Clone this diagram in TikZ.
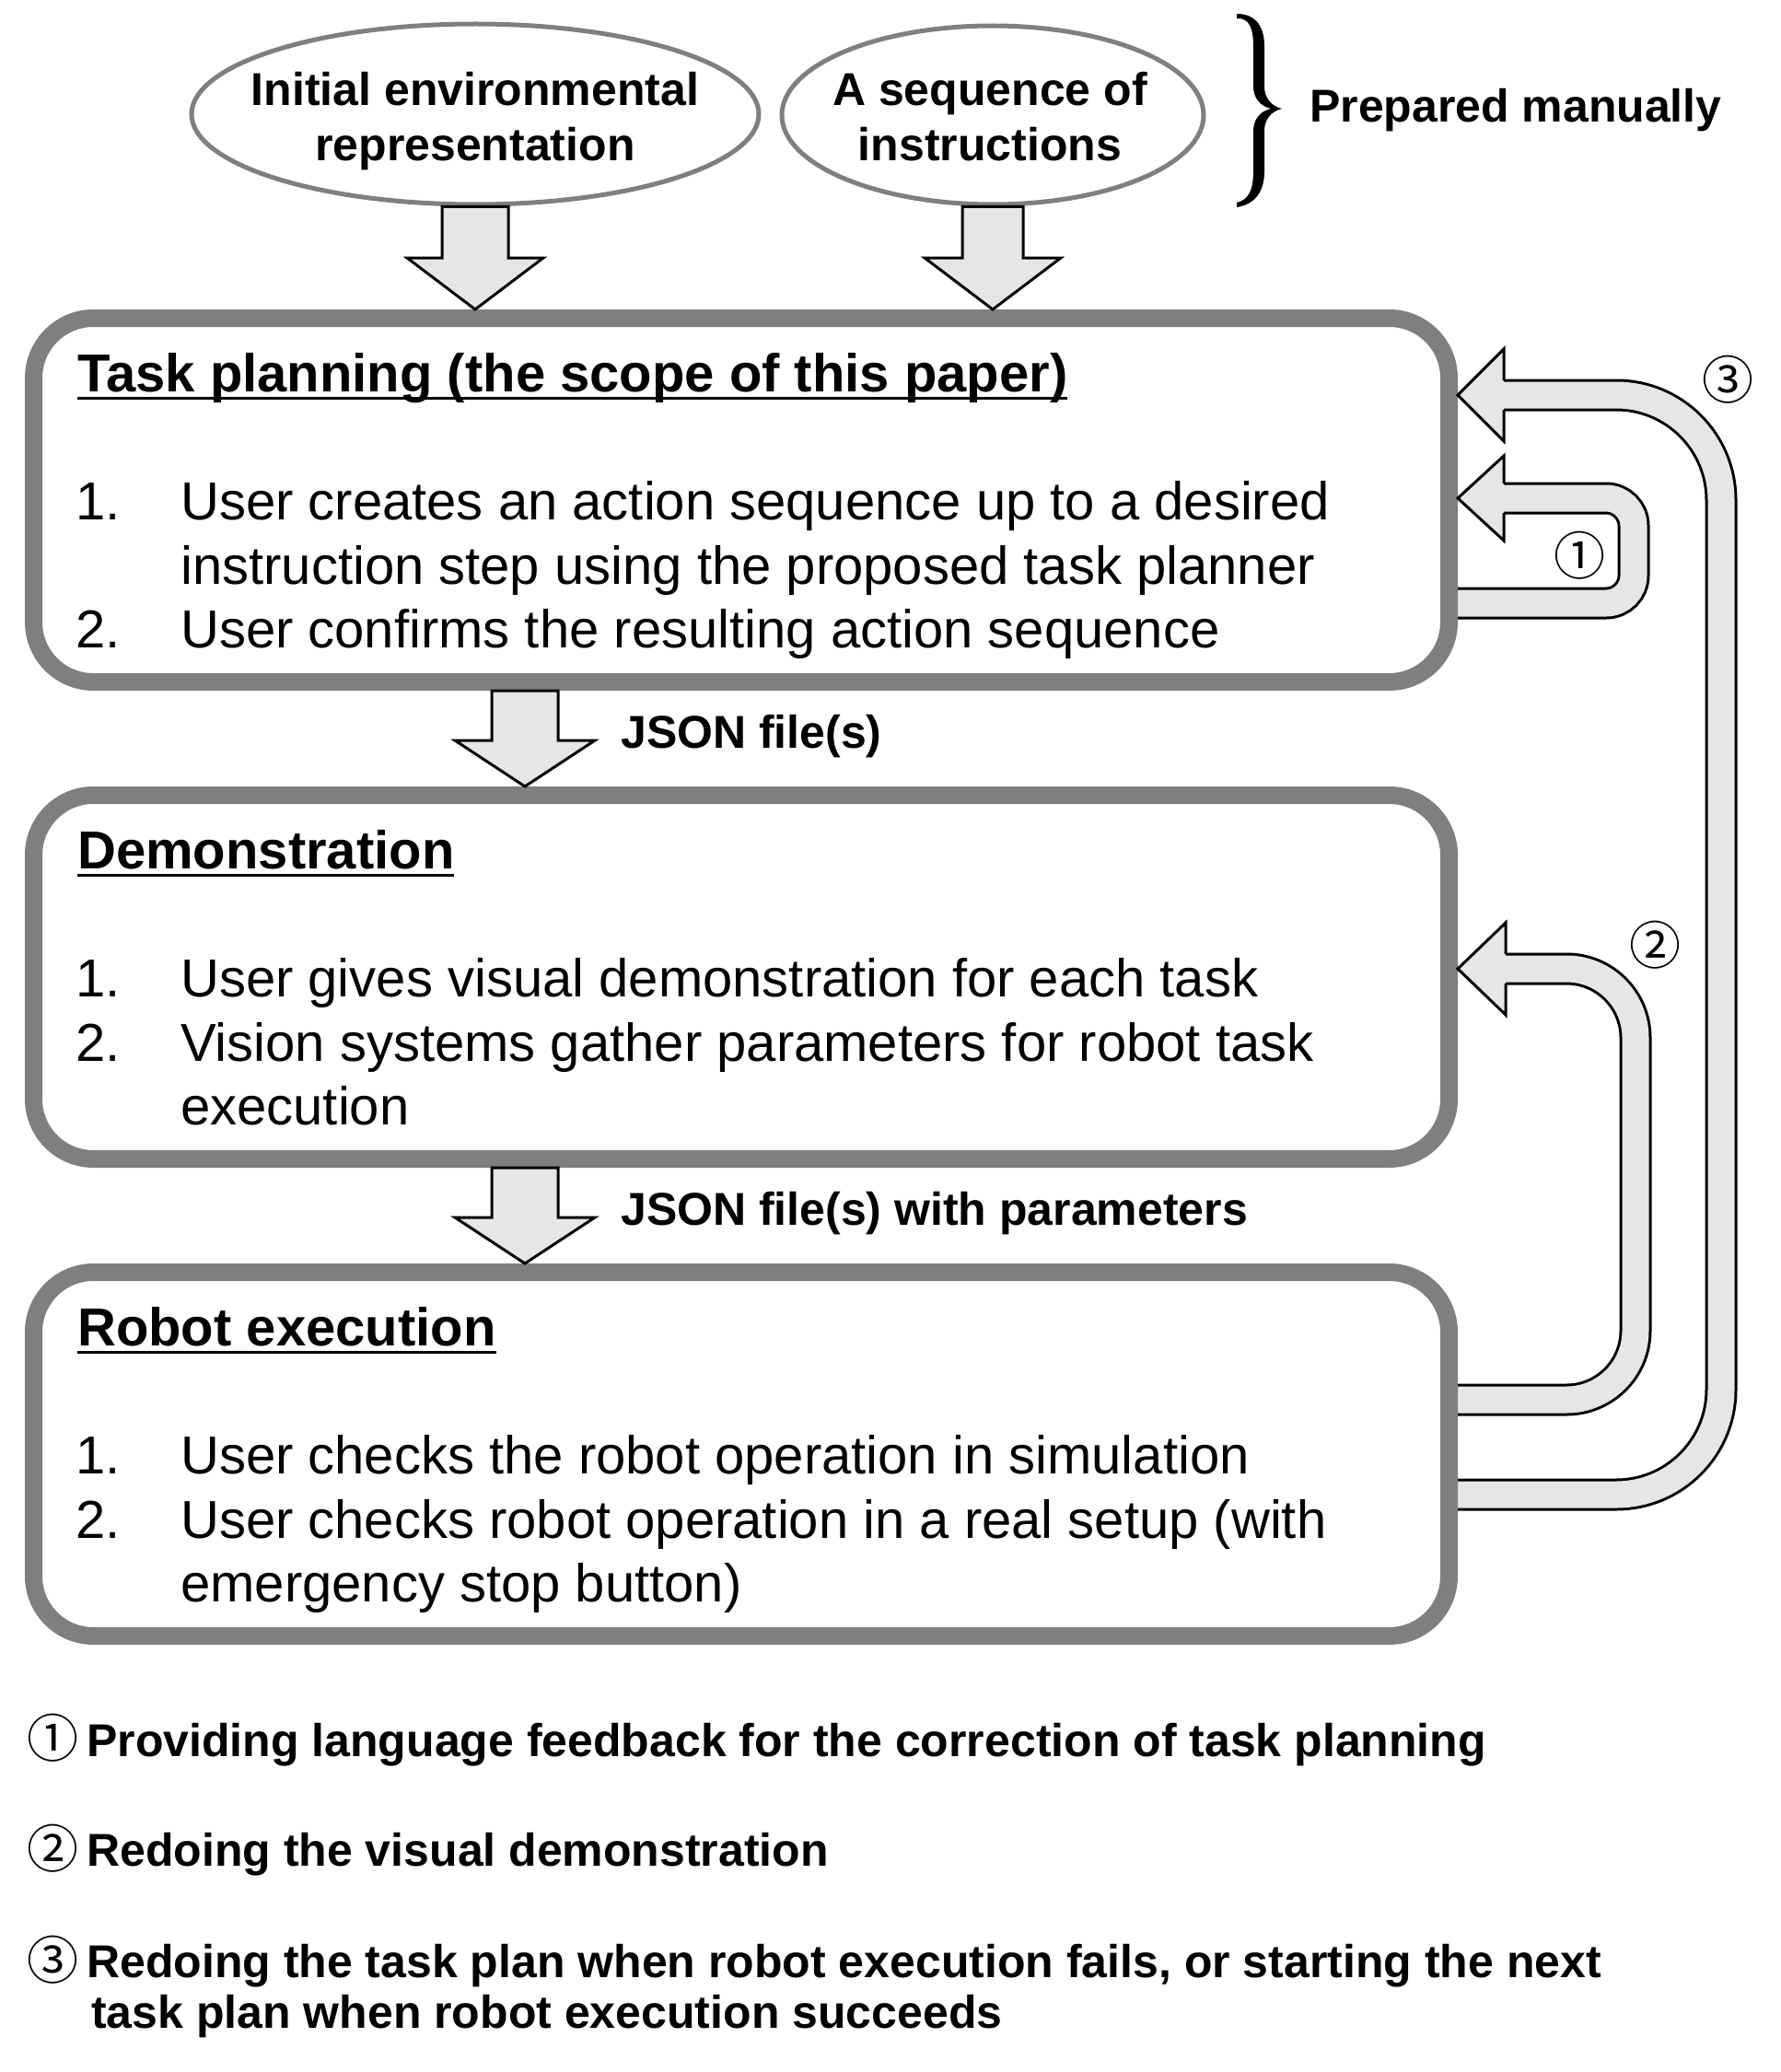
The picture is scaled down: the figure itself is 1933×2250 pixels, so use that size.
\documentclass[tikz,border=0pt]{standalone}
\usepackage{fontspec}
\setmainfont{Liberation Sans}
\newfontfamily\circfont{Noto Sans CJK JP}
\usetikzlibrary{calc,backgrounds,shapes.geometric}
\definecolor{boxgray}{RGB}{127,127,127}
\definecolor{afill}{RGB}{230,230,230}
\newcommand\myul[1]{\setbox0\hbox{#1}\rlap{\rule[-9pt]{\wd0}{3.5pt}}\box0}
% block arrow pointing down: #1 start, #2 tip, #3 shaft half width, #4 head half width, #5 head length
\newcommand\blockdown[5]{%
  \draw[barrow] let \p1=(#1), \p2=(#2) in
    ({\x1-#3pt},{\y1}) -- ({\x1+#3pt},{\y1}) -- ({\x1+#3pt},{\y2+#5pt}) --
    ({\x1+#4pt},{\y2+#5pt}) -- ({\x1},{\y2}) -- ({\x1-#4pt},{\y2+#5pt}) --
    ({\x1-#3pt},{\y2+#5pt}) -- cycle;}
% arrow head pointing left: #1 tip, #2 head half width, #3 head length, #4 shaft half width
\newcommand\headleft[4]{%
  \fill[afill] let \p1=(#1) in (\p1) -- ({\x1+#3pt},{\y1+#2pt}) -- ({\x1+#3pt},{\y1-#2pt}) -- cycle;
  \draw[line width=3pt, line join=miter] let \p1=(#1) in
    ({\x1+#3pt},{\y1+#4pt}) -- ({\x1+#3pt},{\y1+#2pt}) -- (\p1) --
    ({\x1+#3pt},{\y1-#2pt}) -- ({\x1+#3pt},{\y1-#4pt});}
\begin{document}
\begin{tikzpicture}[x=1pt,y=-1pt,
  box/.style={draw=boxgray, line width=19pt, rounded corners=65pt, fill=white,
    minimum width=1537pt, minimum height=395pt, inner sep=0pt},
  ell/.style={ellipse, draw=boxgray, line width=5pt, fill=white, inner sep=0pt},
  txt/.style={anchor=base west, inner sep=0pt, font=\fontsize{58}{70}\selectfont},
  ttl/.style={anchor=base west, inner sep=0pt, font=\fontsize{58}{70}\selectfont\bfseries},
  lbl/.style={anchor=base west, inner sep=0pt, font=\fontsize{50}{60}\selectfont\bfseries},
  ctr/.style={anchor=base, inner sep=0pt, font=\fontsize{50}{60}\selectfont\bfseries},
  circ/.style={inner sep=0pt, font=\fontsize{56}{60}\selectfont\circfont},
  barrow/.style={draw=black, fill=afill, line width=3pt, line join=miter},
  fb/.style={draw=black, line width=3pt, double=afill, double distance=29pt}]

\useasboundingbox (0,0) rectangle (1933,2250);

% ellipses
\node[ell, minimum width=616pt, minimum height=196pt] (e1) at (516,124) {};
\node[ell, minimum width=458pt, minimum height=194pt] (e2) at (1078,125) {};
\node[ctr] (e1a) at (516,115) {Initial environmental};
\node[ctr] (e1b) at (516,175) {representation};
\node[ctr] (e2a) at (1075,115) {A sequence of};
\node[ctr] (e2b) at (1075,175) {instructions};

% brace (filled glyph-like shape)
\fill[black] (1343,15) .. controls (1362,15) and (1373,27) .. (1373,50)
  -- (1373,94) .. controls (1373,106) and (1380,115) .. (1392,118)
  .. controls (1380,121) and (1373,130) .. (1373,142)
  -- (1373,186) .. controls (1373,209) and (1362,222) .. (1343,225)
  -- (1343,220) .. controls (1356,217) and (1361,206) .. (1361,186)
  -- (1361,142) .. controls (1361,130) and (1368,121) .. (1380,118)
  .. controls (1368,115) and (1361,106) .. (1361,94)
  -- (1361,50) .. controls (1361,30) and (1356,19) .. (1343,20) -- cycle;
\node[lbl] (prep) at (1422,133) {Prepared manually};

% boxes
\node[box] (tp) at (805,543) {};
\node[box] (dm) at (805,1061) {};
\node[box] (re) at (805,1579) {};

% feedback shafts (behind boxes)
\begin{pgfonlayer}{background}
\fill[white] (0,0) rectangle (1933,2250);
\coordinate (f1a) at (1570,655);
\coordinate (f1b) at (1628,541);
\coordinate (f2a) at (1570,1520);
\coordinate (f2b) at (1628,1052);
\coordinate (f3a) at (1570,1623);
\coordinate (f3b) at (1628,429);
\draw[fb, rounded corners=30pt] (f1a) -- (1774,655) -- (1774,541) -- (f1b);
\draw[fb, rounded corners=75pt] (f2a) -- (1776,1520) -- (1776,1052) -- (f2b);
\draw[fb, rounded corners=114pt] (f3a) -- (1869,1623) -- (1869,429) -- (f3b);
\end{pgfonlayer}
\headleft{tp.east |- f1b}{46}{50}{16}
\headleft{dm.east |- f2b}{50}{52}{16}
\headleft{tp.east |- f3b}{50}{50}{16}
\node[circ] (c1) at (1715,603) {①};
\node[circ] (c2) at (1797,1026) {②};
\node[circ] (c3) at (1876,412) {③};

% down arrows
\blockdown{e1.south}{e1.south |- tp.north}{36}{74}{56}
\blockdown{e2.south}{e2.south |- tp.north}{33}{74}{56}
\coordinate (mx) at (570,0);
\blockdown{mx |- tp.south}{mx |- dm.north}{36}{76}{50}
\blockdown{mx |- dm.south}{mx |- re.north}{36}{76}{50}
\node[lbl] (j1) at (674,812) {JSON file(s)};
\node[lbl] (j2) at (674,1330) {JSON file(s) with parameters};

% box 1 text
\node[ttl] (tpt) at (84,425) {\myul{Task planning (the scope of this paper)}};
\node[txt] (tp1n) at (82,564) {1.};
\node[txt] (tp1a) at (196,564) {User creates an action sequence up to a desired};
\node[txt] (tp1b) at (196,634) {instruction step using the proposed task planner};
\node[txt] (tp2n) at (82,703) {2.};
\node[txt] (tp2a) at (196,703) {User confirms the resulting action sequence};

% box 2 text
\node[ttl] (dmt) at (84,943) {\myul{Demonstration}};
\node[txt] (dm1n) at (82,1082) {1.};
\node[txt] (dm1a) at (196,1082) {User gives visual demonstration for each task};
\node[txt] (dm2n) at (82,1152) {2.};
\node[txt] (dm2a) at (196,1152) {Vision systems gather parameters for robot task};
\node[txt] (dm2b) at (196,1221) {execution};

% box 3 text
\node[ttl] (ret) at (84,1461) {\myul{Robot execution}};
\node[txt] (re1n) at (82,1600) {1.};
\node[txt] (re1a) at (196,1600) {User checks the robot operation in simulation};
\node[txt] (re2n) at (82,1670) {2.};
\node[txt] (re2a) at (196,1670) {User checks robot operation in a real setup (with};
\node[txt] (re2b) at (196,1739) {emergency stop button)};

% legend
\node[circ] (l1) at (57,1887) {①};
\node[lbl] (l1t) at (94,1907) {Providing language feedback for the correction of task planning};
\node[circ] (l2) at (57,2007) {②};
\node[lbl] (l2t) at (94,2026) {Redoing the visual demonstration};
\node[circ] (l3) at (57,2128) {③};
\node[lbl] (l3t) at (94,2147) {Redoing the task plan when robot execution fails, or starting the next};
\node[lbl] (l3u) at (99,2202) {task plan when robot execution succeeds};
\end{tikzpicture}
\end{document}
